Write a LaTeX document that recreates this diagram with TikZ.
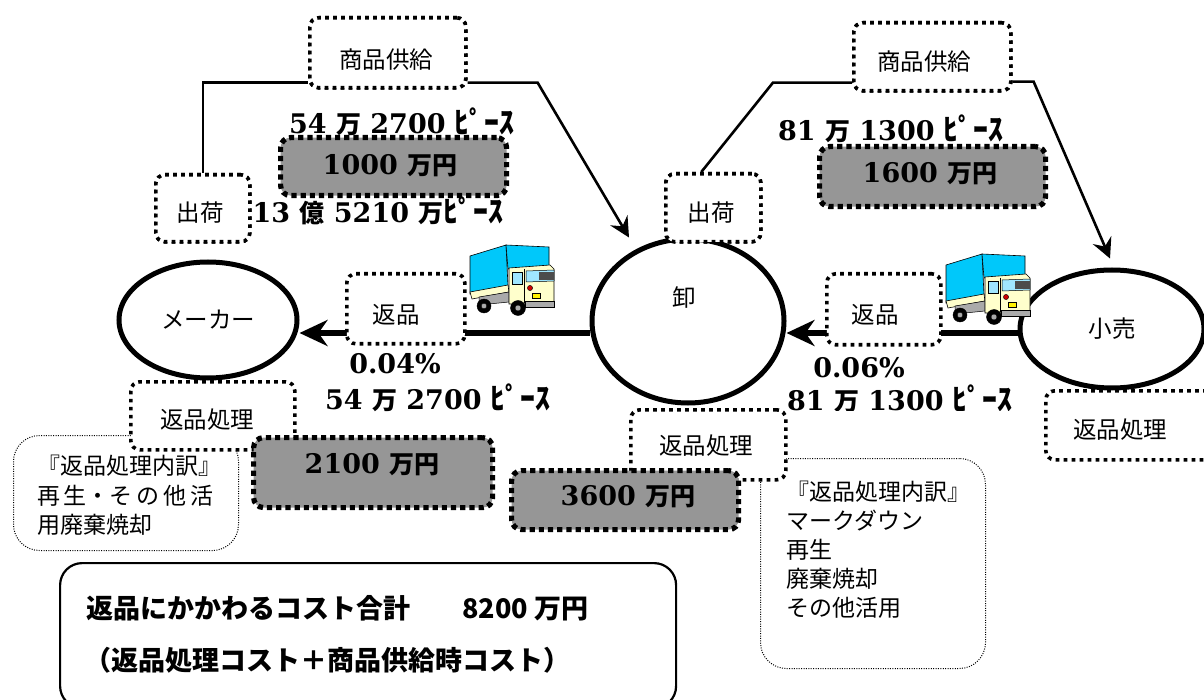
\documentclass[tikz,border=0pt]{standalone}
\usepackage{fontspec}
\setmainfont{Noto Sans CJK JP}
\newfontfamily\numfont{DejaVu Serif}
\usetikzlibrary{arrows.meta,calc,shapes.geometric}

\definecolor{boxgray}{RGB}{150,150,150}
\definecolor{truckblue}{RGB}{0,200,250}
\definecolor{cabcream}{RGB}{255,255,204}
\definecolor{glassblue}{RGB}{160,230,255}
\definecolor{chassis}{RGB}{170,170,170}

% bold serif figures mixed with bold gothic kana/kanji
\newcommand\nm[1]{{\numfont\bfseries\fontsize{27}{30}\selectfont #1}}
\newcommand\pcs[1]{{\fontsize{30}{30}\selectfont #1}}
\newcommand\boldline{\bfseries\fontsize{25}{28}\selectfont}

\tikzset{
  lbl/.style={font=\fontsize{23.5}{27}\selectfont, inner sep=0pt},
  numlbl/.style={font=\boldline, inner sep=0pt},
  dbox/.style={draw, line width=3.6pt, dash pattern=on 3.6pt off 4.4pt,
    rounded corners=9pt, fill=white, inner sep=0pt, anchor=north west},
  gbox/.style={draw, line width=5.2pt, dash pattern=on 5.2pt off 4pt,
    rounded corners=10pt, fill=boxgray, inner sep=0pt, anchor=north west},
  detbox/.style={draw, line width=1pt, dash pattern=on 1pt off 1.4pt,
    rounded corners=26pt, inner sep=0pt, anchor=north west},
  sumbox/.style={draw, line width=2.2pt, rounded corners=22pt, inner sep=0pt,
    anchor=north west},
  actor/.style={ellipse, draw, line width=5pt, fill=white, inner sep=0pt,
    font=\fontsize{23.5}{27}\selectfont},
  retline/.style={line width=6pt, -{Stealth[length=28pt,width=26pt,inset=9pt]}},
  supline/.style={line width=2.6pt},
  suparrow/.style={line width=2.6pt, -{Stealth[length=20pt,width=20pt,inset=7pt]}},
  truck/.pic={
    % cargo cover, side and front faces
    \filldraw[fill=truckblue, draw=black, line width=0.6pt]
      (1,12) -- (37,1) -- (39,42) -- (1,50) -- cycle;
    \filldraw[fill=truckblue, draw=black, line width=0.6pt]
      (37,1) -- (80,3) -- (80,22) -- (39,25) -- cycle;
    % load bed and chassis
    \filldraw[fill=cabcream, draw=black, line width=0.6pt]
      (1,48) -- (39,41) -- (40,48) -- (3,55) -- cycle;
    \filldraw[fill=chassis, draw=black, line width=0.5pt]
      (10,53) -- (40,48) -- (40,58) -- (10,61) -- cycle;
    % cab
    \filldraw[fill=cabcream, draw=black, line width=0.6pt]
      (40,24) -- (81,21) -- (85,25) -- (85,59) -- (40,60) -- cycle;
    \filldraw[fill=glassblue, draw=black, line width=0.5pt]
      (43,28) rectangle (53,40);
    \filldraw[fill=glassblue, draw=black, line width=0.5pt]
      (57,27) -- (85,26) -- (85,37) -- (57,38) -- cycle;
    \fill[black!70] (70,28) rectangle (85,36);
    \draw[line width=0.5pt] (55,25) -- (55,59);
    \filldraw[fill=red!80!black, draw=black, line width=0.4pt] (61,44) circle (2.6);
    \filldraw[fill=yellow, draw=black, line width=0.4pt] (63,49) rectangle (71,54);
    \filldraw[fill=chassis, draw=black, line width=0.5pt] (56,57) rectangle (85,63);
    % wheels
    \filldraw[fill=black] (15,62) circle (7);
    \filldraw[fill=chassis] (15,62) circle (2.8);
    \filldraw[fill=black] (49,64) circle (7.5);
    \filldraw[fill=chassis] (49,64) circle (3);
  }
}

\begin{document}
\begin{tikzpicture}[x=1pt,y=-1pt]
\useasboundingbox (0,0) rectangle (1204,700);
\clip (0,0) rectangle (1204,700);

% trading partners
\node[actor, minimum width=178pt, minimum height=116pt] (maker) at (208,320) {メーカー};
\node[actor, minimum width=192pt, minimum height=164pt] (oroshi) at (688,321) {};
\node[lbl] (oroshit) at (684,298) {卸};
\node[actor, minimum width=184pt, minimum height=118pt] (kouri) at (1112,329) {小売};

% supply boxes (needed for connector anchors)
\node[dbox, minimum width=156pt, minimum height=70pt] (sup1) at (308,16) {};
\node[dbox, minimum width=157pt, minimum height=68pt] (sup2) at (852,21) {};
\node[dbox, minimum width=94pt, minimum height=67pt] (ship1) at (154,173) {};
\node[dbox, minimum width=95pt, minimum height=68pt] (ship2) at (664,172) {};

% supply connectors
\draw[supline] (ship1.north) |- ($(sup1.south west)+(0,-7)$);
\draw[suparrow] ($(sup1.south east)+(0,-7)$) -- ++(70,0) -- ($(oroshi.north)+(-59,1)$);
\draw[supline] ($(ship2.north)+(-12,0)$) -- ($(sup2.south west)+(-79,-10)$)
  -- ($(sup2.south west)+(0,-10)$);
\draw[suparrow] ($(sup2.south east)+(0,-11)$) -- ++(21,0) -- ($(kouri.north)+(-2,-9)$);

% redraw supply boxes above the lines
\node[dbox, minimum width=156pt, minimum height=70pt] at (308,16) {};
\node[dbox, minimum width=157pt, minimum height=68pt] at (852,21) {};
\node[dbox, minimum width=94pt, minimum height=67pt] at (154,173) {};
\node[dbox, minimum width=95pt, minimum height=68pt] at (664,172) {};
\node[lbl] (sup1t) at (386,60) {商品供給};
\node[lbl] (sup2t) at (924,62) {商品供給};
\node[lbl] (ship1t) at (200,213) {出荷};
\node[lbl] (ship2t) at (711,213) {出荷};

% return flows
\draw[retline] ($(oroshi.west)+(0,12)$) -- ($(maker.east)+(0,13)$);
\draw[retline] ($(kouri.west)+(0,4)$) -- ($(oroshi.east)+(0,12)$);
\node[dbox, minimum width=118pt, minimum height=70pt] (ret1) at (345,272) {};
\node[lbl] (ret1t) at (396,315) {返品};
\node[dbox, minimum width=114pt, minimum height=71pt] (ret2) at (825,272) {};
\node[lbl] (ret2t) at (875,315) {返品};

% trucks
\pic (truck1) at (469,244) {truck};
\pic (truck2) at (945,253) {truck};

% supply cost boxes and quantities
\node[gbox, minimum width=226pt, minimum height=58pt] (g1) at (278,135) {};
\node[numlbl] (g1t) at (390,166) {\nm{1000 }万円};
\node[numlbl] (q1) at (402,122) {\nm{54 }万\nm{ 2700 }\pcs{ﾋﾟｰｽ}};
\node[numlbl] (q2) at (378,211) {\nm{13 }億\nm{ 5210 }万\pcs{ﾋﾟｰｽ}};
\node[gbox, minimum width=226pt, minimum height=60pt] (g2) at (817,144) {};
\node[numlbl] (g2t) at (930,174) {\nm{1600 }万円};
\node[numlbl] (q3) at (891,129) {\nm{81 }万\nm{ 1300 }\pcs{ﾋﾟｰｽ}};

% return rates
\node[numlbl] (r1) at (395,364) {\nm{0.04\%}};
\node[numlbl] (r1q) at (438,398) {\nm{54 }万\nm{ 2700 }\pcs{ﾋﾟｰｽ}};
\node[numlbl] (r2) at (859,368) {\nm{0.06\%}};
\begin{scope}
  \clip (770,370) rectangle (1030,410);
  \node[numlbl] (r2q) at (900,399) {\nm{81 }万\nm{ 1300 }\pcs{ﾋﾟｰｽ}};
\end{scope}

% return handling, manufacturer side
\node[detbox, minimum width=225pt, minimum height=115pt] (det1) at (13,435) {};
\node[dbox, minimum width=164pt, minimum height=68pt] (proc1) at (129,380) {};
\node[lbl] (proc1t) at (207,420) {返品処理};
\node[gbox, minimum width=239pt, minimum height=70pt] (g3) at (251,435) {};
\node[numlbl] (g3t) at (372,465) {\nm{2100 }万円};
\node[lbl, anchor=north west, align=left, font=\fontsize{23}{29.5}\selectfont]
  (det1t) at (37,455)
  {『返品処理内訳』\\\makebox[176pt][s]{再\hfill 生・そ\hfill の\hfill 他\hfill 活}\\用廃棄焼却};

% return handling, wholesaler side
\node[detbox, minimum width=225pt, minimum height=210pt] (det2) at (760,458) {};
\node[dbox, minimum width=155pt, minimum height=70pt] (proc2) at (629,408) {};
\node[lbl] (proc2t) at (706,446) {返品処理};
\node[gbox, minimum width=227pt, minimum height=59pt] (g4) at (509,468) {};
\node[numlbl] (g4t) at (628,497) {\nm{3600 }万円};
\node[lbl, anchor=north west, align=left, font=\fontsize{23}{29}\selectfont]
  (det2t) at (786,481)
  {『返品処理内訳』\\マークダウン\\再生\\廃棄焼却\\その他活用};

% return handling, retailer side
\node[dbox, minimum width=170pt, minimum height=69pt] (proc3) at (1044,389) {};
\node[lbl] (proc3t) at (1120,430) {返品処理};

% total
\node[sumbox, minimum width=616pt, minimum height=145pt] (sum) at (59,562) {};
\node[inner sep=0pt, anchor=west, font=\bfseries\fontsize{27}{30}\selectfont]
  (sum1) at (86,608) {返品にかかわるコスト合計\hspace{52pt}8200 万円};
\node[inner sep=0pt, anchor=west, font=\bfseries\fontsize{27}{30}\selectfont]
  (sum2) at (84,660) {（返品処理コスト＋商品供給時コスト）};
\end{tikzpicture}
\end{document}
